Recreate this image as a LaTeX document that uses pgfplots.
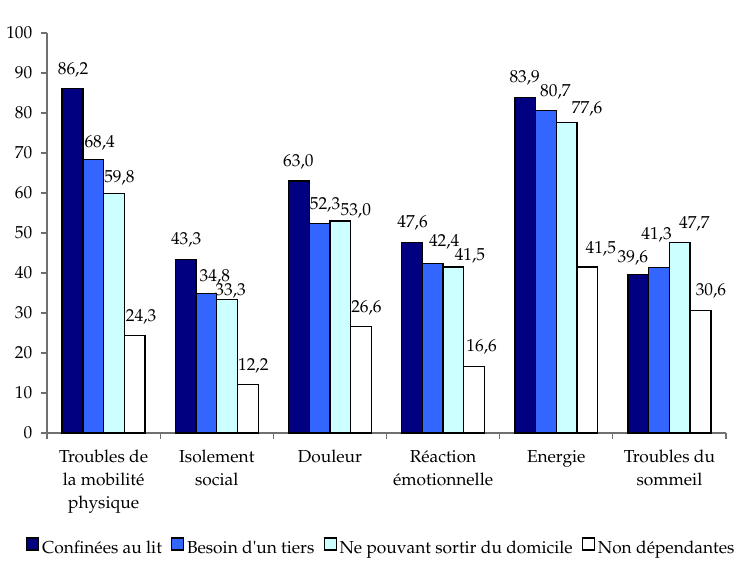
\documentclass[border=0pt]{standalone}
\usepackage[T1]{fontenc}
\usepackage{mathpazo}
\usepackage{pgfplots}
\pgfplotsset{compat=1.18}
\definecolor{cA}{HTML}{000080}
\definecolor{cB}{HTML}{3366FF}
\definecolor{cC}{HTML}{CCFFFF}
\definecolor{axc}{HTML}{707070}
% dx, dy: label offsets (px) from bar left edge / bar top
\pgfplotstableread{
x y dx dy
0 86.2 -5 14
1 43.3 -5 15
2 63.0 -6 15
3 47.6 -5 15
4 83.9 -6 15
5 39.6 -11 12
}\tA
\pgfplotstableread{
x y dx dy
0 68.4 1 12
1 34.8 3 12
2 52.3 0 14
3 42.4 6 17
4 80.7 4 14
5 41.3 -8 28
}\tB
\pgfplotstableread{
x y dx dy
0 59.8 0 11
1 33.3 -2 4
2 53.0 10 6
3 41.5 11 7
4 77.6 15 9
5 47.7 9 14
}\tC
\pgfplotstableread{
x y dx dy
0 24.3 1 14
1 12.2 0 14
2 26.6 0 14
3 16.6 2 15
4 41.5 8 14
5 30.6 5 15
}\tD
\begin{document}
\begin{tikzpicture}
\begin{axis}[name=ax,
  scale only axis, width=509.25pt, height=300pt,
  xmin=-0.5, xmax=5.5, ymin=0, ymax=100,
  axis x line*=bottom, axis y line*=left,
  axis line style={axc, line width=0.8pt},
  every tick/.style={axc, line width=0.8pt},
  tick align=outside,
  ytick={0,10,...,100}, major tick length=4.5pt,
  xtick={0,...,5},
  major x tick style={draw=none},
  minor xtick={-0.5,0.5,...,5.5}, minor tick length=4.5pt,
  xticklabels={Troubles de\\la mobilité\\physique, Isolement\\social, Douleur, Réaction\\émotionnelle, Energie, Troubles du\\sommeil},
  xticklabel style={align=center, font=\fontsize{13}{17}\selectfont, yshift=-5pt},
  yticklabel style={font=\fontsize{13}{15}\selectfont, xshift=-3pt},
  ybar=0pt, bar width=0.183,
  every axis plot/.append style={draw=black, line width=1pt},
  visualization depends on=\thisrow{dx} \as \dx,
  visualization depends on=\thisrow{dy} \as \dy,
  nodes near coords={\pgfmathprintnumber[use comma,fixed,fixed zerofill,precision=1]{\pgfplotspointmeta}},
  nodes near coords style={font=\fontsize{13}{15}\selectfont, text=black},
  every node near coord/.append style={anchor=base west, inner sep=0pt,
     xshift={-7.76pt+0.75pt*\dx}, yshift={0.75pt*\dy}},
  legend style={at={(0.493,-0.2875)}, anchor=center, draw=none, fill=none,
    legend columns=4, font=\rmfamily\fontsize{13}{15}\selectfont,
    /tikz/every even column/.append style={column sep=5pt}},
  legend image code/.code={\draw[#1, draw=black, line width=0.8pt] (0pt,-1pt) rectangle (9pt,8pt);},
]
\addplot[fill=cA] table[x=x,y=y] {\tA};
\addplot[fill=cB] table[x=x,y=y] {\tB};
\addplot[fill=cC] table[x=x,y=y] {\tC};
\addplot[fill=white] table[x=x,y=y] {\tD};
\legend{Confinées au lit, Besoin d\textquotesingle un tiers, Ne pouvant sortir du domicile, Non dépendantes}
\node[anchor=base west, font=\fontsize{13}{15}\selectfont, inner sep=0pt] at (rel axis cs:0,1) [xshift=4.5pt, yshift=5pt] {Scores};
\end{axis}
\path (ax.south west) ++(-35.25pt,-94.5pt);
\path (ax.north east) ++(13.5pt,24.75pt);
\end{tikzpicture}
\end{document}
